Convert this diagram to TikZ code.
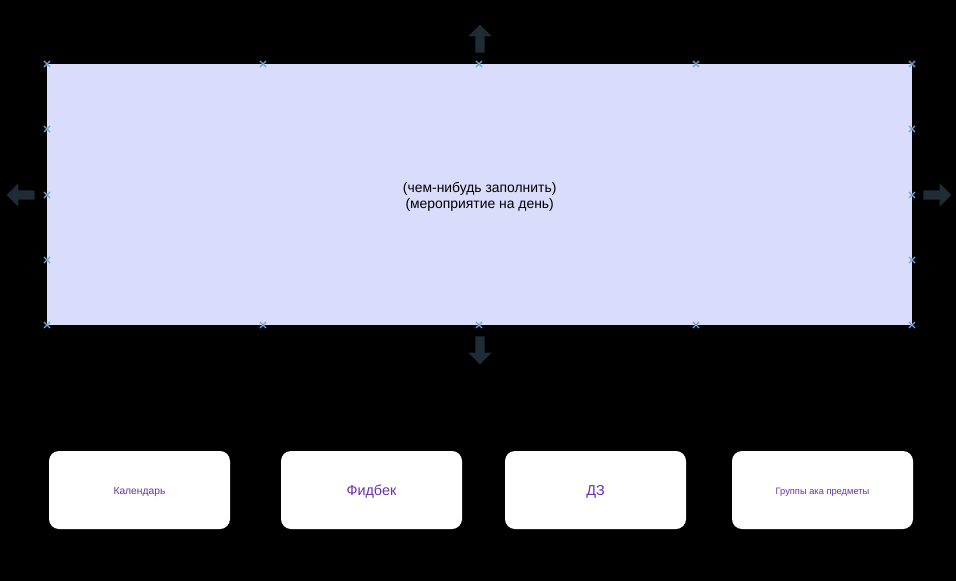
\documentclass[tikz,border=0pt]{standalone}
\usepackage{fontspec}
\setmainfont{Liberation Sans}
\usetikzlibrary{shapes.misc,shapes.arrows}
\definecolor{lav}{HTML}{DADCFC}
\definecolor{xblue}{HTML}{6FA6DA}
\definecolor{arr}{HTML}{1E2C36}
\definecolor{purp}{HTML}{6B2FB0}
\tikzset{
  xmk/.style={cross out, draw=xblue, line width=1.1pt, minimum size=5pt, inner sep=0pt},
  blockarr/.style={single arrow, fill=arr, draw=none, minimum height=28pt, minimum width=21pt, single arrow tip angle=90, inner xsep=0pt, inner ysep=4.5pt},
  card/.style={rectangle, rounded corners=10pt, fill=white, draw=none, minimum width=181pt, minimum height=78pt, text=purp}
}
\begin{document}
\begin{tikzpicture}[x=1pt,y=-1pt]
\fill[black] (0,0) rectangle (956,581);
\useasboundingbox (0,0) rectangle (956,581);
% main rectangle
\node[rectangle, fill=lav, minimum width=865pt, minimum height=261pt, inner sep=0pt, anchor=north west] (main) at (47,64) {};
\node[align=center, font=\fontsize{13.9}{16}\selectfont] (maintext) at ([yshift=-2pt]main.center) {(чем-нибудь заполнить)\\(мероприятие на день)};
% markers
\foreach \x [count=\i] in {47,263,479,696,912}{
  \node[xmk] (t\i) at (\x,64) {};
  \node[xmk] (b\i) at (\x,325) {};
}
\foreach \y [count=\i] in {129,195,260}{
  \node[xmk] (l\i) at (47,\y) {};
  \node[xmk] (r\i) at (912,\y) {};
}
% arrows
\node[blockarr, rotate=90] (aup) at (480,41) {};
\node[blockarr, rotate=-90] (adown) at (480,348) {};
\node[blockarr, rotate=180] (aleft) at (23,195) {};
\node[blockarr] (aright) at (935,195) {};
% cards
\node[card] (cal) at (139.5,490) {};
\node[card] (fb) at (371.5,490) {};
\node[card] (dz) at (595.5,490) {};
\node[card] (grp) at (822.5,490) {};
\node[text=purp, font=\fontsize{10.3}{12}\selectfont] (calt) at ([yshift=-2pt]cal.center) {Календарь};
\node[text=purp, font=\fontsize{14.4}{16}\selectfont] (fbt) at ([yshift=-2pt]fb.center) {Фидбек};
\node[text=purp, font=\fontsize{14.4}{16}\selectfont] (dzt) at ([yshift=-2pt]dz.center) {ДЗ};
\node[text=purp, font=\fontsize{9.3}{11}\selectfont] (grpt) at ([yshift=-2pt]grp.center) {Группы ака предметы};
\end{tikzpicture}
\end{document}
